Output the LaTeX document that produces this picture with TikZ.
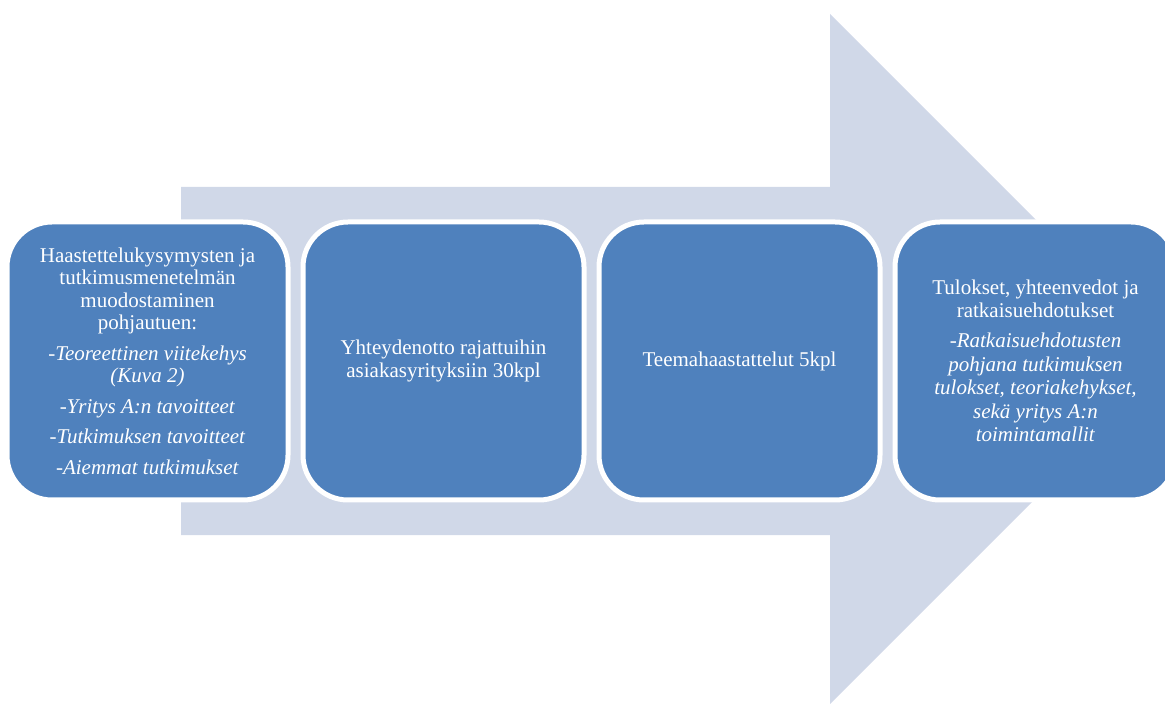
\documentclass[tikz,border=0pt]{standalone}
\usepackage{fontspec}
\setmainfont{Liberation Serif}[ItalicFont={Liberation Serif Italic}]
\definecolor{arrowfill}{HTML}{D0D8E8}
\definecolor{boxfill}{HTML}{4F81BD}
\begin{document}
\begin{tikzpicture}[x=0.5pt,y=-0.5pt,
  stepbox/.style={draw=white, line width=2.5pt, fill=boxfill, rounded corners=22.5pt,
    minimum width=140.5pt, minimum height=139pt, text=white, align=center,
    font=\fontsize{10.5}{11.25}\selectfont, inner sep=0pt},
  bigarrow/.style={fill=arrowfill}]
\useasboundingbox (0,0) rectangle (1165,704);
\begin{scope}
\clip (0,0) rectangle (1165,704);
\fill[bigarrow] (181,187) -- (830,187) -- (830,14) -- (1175,359) -- (830,704) -- (830,535) -- (181,535) -- cycle;
\node[stepbox] (b1) at (147.5,361) {Haastettelukysymysten ja\\ tutkimusmenetelmän\\ muodostaminen\\ pohjautuen:\\[4pt]
  \textit{-Teoreettinen viitekehys}\\ \textit{(Kuva 2)}\\[4pt]
  \textit{-Yritys A:n tavoitteet}\\[4pt]
  \textit{-Tutkimuksen tavoitteet}\\[4pt]
  \textit{-Aiemmat tutkimukset}};
\node[stepbox] (b2) at (443.5,361) {Yhteydenotto rajattuihin\\ asiakasyrityksiin 30kpl};
\node[stepbox] (b3) at (739.5,361) {Teemahaastattelut 5kpl};
\node[stepbox] (b4) at (1035.5,361) {Tulokset, yhteenvedot ja\\ ratkaisuehdotukset\\[4pt]
  \textit{-Ratkaisuehdotusten}\\[0.5pt] \textit{pohjana tutkimuksen}\\[0.5pt] \textit{tulokset, teoriakehykset,}\\[0.5pt]
  \textit{sekä yritys A:n}\\[0.5pt] \textit{toimintamallit}};
\end{scope}
\end{tikzpicture}
\end{document}
